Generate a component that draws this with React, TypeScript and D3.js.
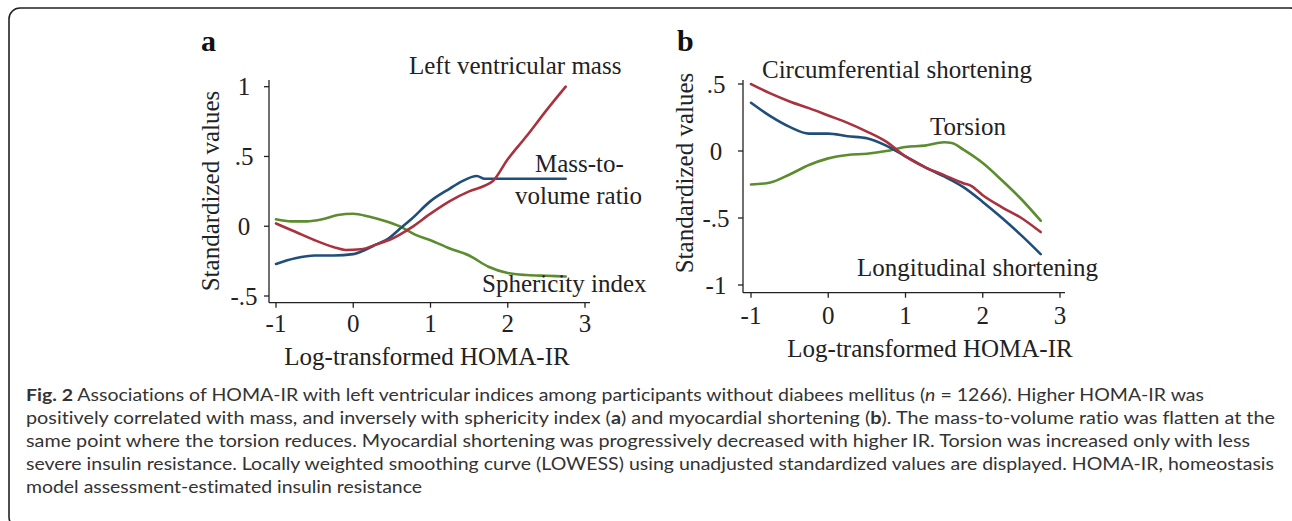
import React from "react";
import * as d3 from "d3";

// ---------- Data ----------
const xTicks = [-1, 0, 1, 2, 3];
const yTicksA = [-0.5, 0, 0.5, 1];
const yTickLabelsA = ["-.5", "0", ".5", "1"];
const yTicksB = [-1, -0.5, 0, 0.5];
const yTickLabelsB = ["-1", "-.5", "0", ".5"];

// Panel a
const lvMassX = [-1, -0.75, -0.5, -0.25, -0.1, 0.1, 0.3, 0.5, 0.75, 1, 1.25, 1.5, 1.7, 1.8, 2, 2.25, 2.5, 2.75];
const lvMassY = [0.02, -0.04, -0.1, -0.15, -0.17, -0.165, -0.13, -0.09, -0.01, 0.09, 0.18, 0.25, 0.29, 0.32, 0.48, 0.65, 0.83, 1.0];
const mvRatioX = [-1, -0.75, -0.5, -0.25, 0, 0.15, 0.3, 0.45, 0.6, 0.75, 1, 1.25, 1.4, 1.6, 1.7, 2, 2.4, 2.75];
const mvRatioY = [-0.27, -0.23, -0.21, -0.21, -0.2, -0.17, -0.13, -0.09, -0.02, 0.05, 0.18, 0.27, 0.32, 0.36, 0.34, 0.34, 0.34, 0.34];
const sphX = [-1, -0.8, -0.6, -0.4, -0.2, 0, 0.2, 0.4, 0.6, 0.8, 1, 1.25, 1.5, 1.75, 2, 2.25, 2.5, 2.75];
const sphY = [0.05, 0.035, 0.035, 0.05, 0.08, 0.09, 0.07, 0.04, 0.0, -0.06, -0.1, -0.16, -0.21, -0.29, -0.335, -0.35, -0.355, -0.36];

// Panel b
const circX = [-1, -0.75, -0.5, -0.25, 0, 0.25, 0.5, 0.75, 1, 1.25, 1.5, 1.75, 1.85, 2, 2.25, 2.5, 2.75];
const circY = [0.5, 0.43, 0.37, 0.32, 0.265, 0.21, 0.145, 0.07, -0.04, -0.12, -0.18, -0.24, -0.26, -0.33, -0.42, -0.5, -0.605];
const longX = [-1, -0.75, -0.5, -0.25, 0, 0.25, 0.5, 0.75, 1, 1.25, 1.5, 1.75, 2, 2.25, 2.5, 2.75];
const longY = [0.36, 0.26, 0.18, 0.13, 0.13, 0.11, 0.095, 0.04, -0.04, -0.12, -0.19, -0.27, -0.38, -0.5, -0.63, -0.77];
const torsX = [-1, -0.75, -0.5, -0.25, 0, 0.25, 0.5, 0.75, 1, 1.25, 1.5, 1.6, 1.75, 2, 2.25, 2.5, 2.75];
const torsY = [-0.25, -0.235, -0.175, -0.105, -0.055, -0.03, -0.02, 0.0, 0.03, 0.04, 0.065, 0.06, 0.01, -0.09, -0.22, -0.36, -0.52];

const RED = "#a8323e";
const BLUE = "#1f4e7a";
const GREEN = "#5b8c2e";
const SERIF = "'Liberation Serif', 'Times New Roman', serif";
const SANS = "Lato, 'Open Sans', sans-serif";
const FS = 25;

type Series = { xs: number[]; ys: number[]; color: string };

function Panel(props: {
  x0: number; x1: number; y0: number; y1: number;
  axisX: number; axisY: number; xEnd: number; yTop: number;
  yDomain: [number, number]; yTicks: number[]; yLabels: string[];
  yLabelX: number; xLabelY: number;
  titleX: number; titleY: number;
  xTitleX: number; xTitleY: number;
  series: Series[];
}) {
  const x = d3.scaleLinear().domain([-1, 3]).range([props.x0, props.x1]);
  const y = d3.scaleLinear().domain(props.yDomain).range([props.y0, props.y1]);
  const line = d3.line<[number, number]>().x(d => x(d[0])).y(d => y(d[1])).curve(d3.curveMonotoneX);
  return (
    <g>
      {props.series.map((s, i) => (
        <path key={i} d={line(s.xs.map((v, j) => [v, s.ys[j]] as [number, number])) || ""}
          fill="none" stroke={s.color} strokeWidth={2.6} strokeLinejoin="round" strokeLinecap="round" />
      ))}
      <line x1={props.axisX} x2={props.axisX} y1={props.yTop} y2={props.axisY} stroke="#222" strokeWidth={1.3} />
      <line x1={props.axisX} x2={props.xEnd} y1={props.axisY} y2={props.axisY} stroke="#222" strokeWidth={1.3} />
      {props.yTicks.map((t, i) => (
        <g key={i}>
          <line x1={props.axisX - 5} x2={props.axisX} y1={y(t)} y2={y(t)} stroke="#222" strokeWidth={1.3} />
          <text x={props.yLabelX} y={y(t)} dy="0.35em" textAnchor="middle" fontFamily={SERIF} fontSize={FS} fill="#222">{props.yLabels[i]}</text>
        </g>
      ))}
      {xTicks.map((t, i) => (
        <g key={i}>
          <line x1={x(t)} x2={x(t)} y1={props.axisY} y2={props.axisY + 5} stroke="#222" strokeWidth={1.3} />
          <text x={x(t)} y={props.xLabelY} dy="0.35em" textAnchor="middle" fontFamily={SERIF} fontSize={FS} fill="#222">{String(t)}</text>
        </g>
      ))}
      <text transform={`translate(${props.titleX},${props.titleY}) rotate(-90)`} dy="0.35em" textAnchor="middle" fontFamily={SERIF} fontSize={FS} fill="#222">Standardized values</text>
      <text x={props.xTitleX} y={props.xTitleY} dy="0.35em" textAnchor="middle" fontFamily={SERIF} fontSize={FS} fill="#222">Log-transformed HOMA-IR</text>
    </g>
  );
}

export default function App() {
  return (
    <svg width={1292} height={521} style={{ position: "absolute", left: 0, top: 0, background: "#fff" }}>
      <rect x={9} y={8} width={1292} height={520} rx={11} ry={11} fill="#fff" stroke="#222" strokeWidth={1.6} />

      <text x={201} y={40} dy="0.35em" fontFamily={SERIF} fontWeight="bold" fontSize={30} fill="#111">a</text>
      <text x={677} y={40} dy="0.35em" fontFamily={SERIF} fontWeight="bold" fontSize={30} fill="#111">b</text>

      <Panel x0={276} x1={585} y0={296} y1={86.7} axisX={269} axisY={302.7} xEnd={590} yTop={80}
        yDomain={[-0.5, 1]} yTicks={yTicksA} yLabels={yTickLabelsA} yLabelX={244} xLabelY={323}
        titleX={210} titleY={191} xTitleX={427} xTitleY={356}
        series={[
          { xs: sphX, ys: sphY, color: GREEN },
          { xs: mvRatioX, ys: mvRatioY, color: BLUE },
          { xs: lvMassX, ys: lvMassY, color: RED },
        ]} />
      <Panel x0={751} x1={1060} y0={285} y1={84} axisX={743} axisY={292.7} xEnd={1065} yTop={80}
        yDomain={[-1, 0.5]} yTicks={yTicksB} yLabels={yTickLabelsB} yLabelX={716} xLabelY={315}
        titleX={684} titleY={173} xTitleX={930} xTitleY={348}
        series={[
          { xs: torsX, ys: torsY, color: GREEN },
          { xs: longX, ys: longY, color: BLUE },
          { xs: circX, ys: circY, color: RED },
        ]} />

      <g fontFamily={SERIF} fontSize={FS} fill="#222">
        <text x={409} y={65} dy="0.35em">Left ventricular mass</text>
        <text x={535} y={163} dy="0.35em">Mass-to-</text>
        <text x={515} y={195} dy="0.35em">volume ratio</text>
        <text x={482} y={283} dy="0.35em">Sphericity index</text>
        <text x={762} y={69} dy="0.35em">Circumferential shortening</text>
        <text x={930} y={126} dy="0.35em">Torsion</text>
        <text x={857} y={267} dy="0.35em">Longitudinal shortening</text>
      </g>

      <g fontFamily={SANS} fontSize={17.5} fill="#333" style={{ fontVariantLigatures: "none" }}>
        <text x={26} y={401} textLength={1178} lengthAdjust="spacingAndGlyphs">
          <tspan fontWeight="bold">Fig. 2</tspan> Associations of HOMA-IR with left ventricular indices among participants without diabees mellitus (<tspan fontStyle="italic">n</tspan> = 1266). Higher HOMA-IR was
        </text>
        <text x={26} y={424} textLength={1249} lengthAdjust="spacingAndGlyphs">
          positively correlated with mass, and inversely with sphericity index (<tspan fontWeight="bold">a</tspan>) and myocardial shortening (<tspan fontWeight="bold">b</tspan>). The mass-to-volume ratio was flatten at the
        </text>
        <text x={26} y={447} textLength={1224} lengthAdjust="spacingAndGlyphs">
          same point where the torsion reduces. Myocardial shortening was progressively decreased with higher IR. Torsion was increased only with less
        </text>
        <text x={26} y={470} textLength={1248} lengthAdjust="spacingAndGlyphs">
          severe insulin resistance. Locally weighted smoothing curve (LOWESS) using unadjusted standardized values are displayed. HOMA-IR, homeostasis
        </text>
        <text x={26} y={493} textLength={396} lengthAdjust="spacingAndGlyphs">
          model assessment-estimated insulin resistance
        </text>
      </g>
    </svg>
  );
}
